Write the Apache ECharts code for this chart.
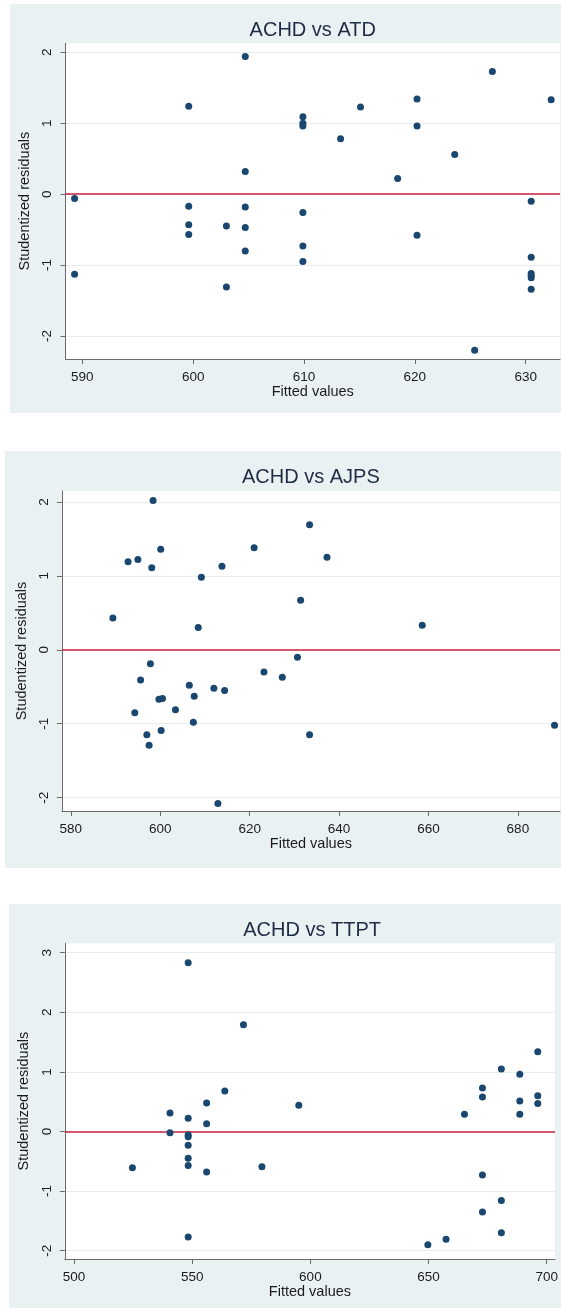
<!DOCTYPE html>
<html>
<head>
<meta charset="utf-8">
<title>Studentized residuals vs fitted values</title>
<script src="https://cdn.jsdelivr.net/npm/echarts@6/dist/echarts.min.js"></script>
<style>
    html, body { margin: 0; padding: 0; background: #fff; }
    #chart { width: 561px; height: 1310px; }
</style>
</head>
<body>
<div id="chart"></div>
<script>
// ACHD vs ATD
const atdFitted = [589.3, 589.3, 599.6, 599.6, 599.6, 599.6, 603.0, 603.0, 604.7, 604.7, 604.7, 604.7, 604.7,
    609.9, 609.9, 609.9, 609.9, 609.9, 609.9, 613.3, 615.1, 618.45, 620.2, 620.2, 620.2, 623.6, 625.4, 627.0,
    630.5, 630.5, 630.5, 630.5, 630.5, 630.5, 632.3]
const atdResid = [-0.06, -1.13, 1.24, -0.17, -0.43, -0.57, -0.45, -1.31, 1.94, 0.32, -0.18, -0.47, -0.80,
    1.09, 1.00, 0.96, -0.26, -0.73, -0.95, 0.78, 1.23, 0.22, 1.34, 0.96, -0.58, 0.56, -2.20, 1.73,
    -0.10, -0.89, -1.12, -1.15, -1.18, -1.34, 1.33]
const atdXTicks = [590, 600, 610, 620, 630]
const atdYTicks = [-2, -1, 0, 1, 2]

// ACHD vs AJPS
const ajpsFitted = [589.4, 592.8, 595.0, 598.1, 598.4, 600.1, 609.2, 608.5, 613.8, 621.0, 633.4, 631.4,
    637.3, 658.6, 630.7, 597.8, 595.6, 594.3, 597.0, 597.5, 599.7, 600.5, 600.2, 603.4, 606.5, 607.6,
    607.4, 612.0, 614.4, 612.9, 623.2, 627.3, 633.4, 688.2]
const ajpsResid = [0.43, 1.19, 1.22, 1.11, 2.02, 1.36, 0.98, 0.30, 1.13, 1.38, 1.69, 0.67,
    1.25, 0.33, -0.10, -0.19, -0.41, -0.85, -1.15, -1.29, -0.67, -0.66, -1.09, -0.81, -0.48, -0.63,
    -0.98, -0.52, -0.55, -2.08, -0.30, -0.37, -1.15, -1.02]
const ajpsXTicks = [580, 600, 620, 640, 660, 680]
const ajpsYTicks = [-2, -1, 0, 1, 2]

// ACHD vs TTPT
const ttptFitted = [524.7, 540.6, 540.6, 548.3, 548.3, 548.3, 548.3, 548.3, 548.3, 548.3, 548.3,
    556.1, 556.1, 556.1, 563.8, 571.7, 579.5, 595.1, 649.7, 657.4, 665.2, 672.8, 672.8, 672.8, 672.8,
    680.8, 680.8, 680.8, 688.6, 688.6, 688.6, 696.2, 696.2, 696.2]
const ttptResid = [-0.61, 0.31, -0.02, 2.83, 0.22, -0.06, -0.09, -0.23, -0.45, -0.57, -1.77,
    0.48, 0.13, -0.68, 0.68, 1.79, -0.59, 0.44, -1.90, -1.81, 0.29, 0.73, 0.58, -0.73, -1.35,
    1.05, -1.16, -1.70, 0.96, 0.51, 0.29, 1.34, 0.60, 0.47]
const ttptXTicks = [500, 550, 600, 650, 700]
const ttptYTicks = [-2, -1, 0, 1, 2, 3]

const panels = [
    { title: 'ACHD vs ATD', x: atdFitted, y: atdResid, xTicks: atdXTicks, yTicks: atdYTicks,
        box: [10, 4, 551, 409], grid: [65.5, 43.3, 494.5, 315.7], titleY: 30,
        xRange: [588.48, 633.1], yRange: [-2.324, 2.127], nameGapY: 26, nameGapX: 23 },
    { title: 'ACHD vs AJPS', x: ajpsFitted, y: ajpsResid, xTicks: ajpsXTicks, yTicks: ajpsYTicks,
        box: [5, 451, 556, 417], grid: [61.9, 491, 498, 320], titleY: 477,
        xRange: [578.0, 689.4], yRange: [-2.18, 2.147], nameGapY: 26, nameGapX: 25 },
    { title: 'ACHD vs TTPT', x: ttptFitted, y: ttptResid, xTicks: ttptXTicks, yTicks: ttptYTicks,
        box: [9, 904, 552, 404], grid: [64.8, 943.3, 494.5, 315.7], titleY: 930,
        xRange: [496.1, 703.5], yRange: [-2.14, 3.158], nameGapY: 27, nameGapX: 24 }
]

const fontFamily = '"Liberation Sans", Arial, sans-serif'
const axisColor = '#6a6a6a'
const textColor = '#1b1b1b'

const chart = echarts.init(document.getElementById('chart'), null, { renderer: 'canvas' })

const option = {
    animation: false,
    textStyle: { fontFamily: fontFamily },
    graphic: [],
    grid: [],
    xAxis: [],
    yAxis: [],
    series: []
}

panels.forEach((p, i) => {
    // grey-blue graph region behind each plot
    option.graphic.push({
        type: 'rect', z: -10, silent: true,
        shape: { x: p.box[0], y: p.box[1], width: p.box[2], height: p.box[3] },
        style: { fill: '#eaf1f3' }
    })
    option.graphic.push({
        type: 'text', z: 10, silent: true,
        x: p.grid[0] + p.grid[2] / 2, y: p.titleY,
        style: { text: p.title, font: '20px ' + fontFamily, fill: '#1e2c45',
            textAlign: 'center', textVerticalAlign: 'middle' }
    })
    option.grid.push({
        left: p.grid[0], top: p.grid[1], width: p.grid[2], height: p.grid[3],
        show: true, backgroundColor: '#ffffff', borderWidth: 0
    })
    option.xAxis.push({
        type: 'value', gridIndex: i, min: p.xRange[0], max: p.xRange[1],
        name: 'Fitted values', nameLocation: 'middle', nameGap: p.nameGapX,
        nameTextStyle: { fontSize: 14.5, color: textColor, fontFamily: fontFamily },
        axisLine: { show: true, onZero: false, lineStyle: { color: axisColor, width: 1 } },
        axisTick: { show: true, length: 5, customValues: p.xTicks, lineStyle: { color: axisColor } },
        axisLabel: { customValues: p.xTicks, margin: 11, fontSize: 13.5, color: textColor },
        splitLine: { show: false }
    })
    option.yAxis.push({
        type: 'value', gridIndex: i, min: p.yRange[0], max: p.yRange[1],
        name: 'Studentized residuals', nameLocation: 'middle', nameGap: p.nameGapY,
        nameTextStyle: { fontSize: 14.5, color: textColor, fontFamily: fontFamily },
        axisLine: { show: true, onZero: false, lineStyle: { color: axisColor, width: 1 } },
        axisTick: { show: true, length: 5, customValues: p.yTicks, lineStyle: { color: axisColor } },
        axisLabel: { customValues: p.yTicks, rotate: 90, margin: 11, fontSize: 13.5, color: textColor },
        splitLine: { show: true, lineStyle: { color: '#e5eef0', width: 1.2 } }
    })
    option.series.push({
        type: 'scatter', xAxisIndex: i, yAxisIndex: i, z: 3,
        data: p.x.map((v, k) => [v, p.y[k]]),
        symbolSize: 7,
        itemStyle: { color: '#1a476f', opacity: 1 },
        markLine: {
            silent: true, z: 1, symbol: 'none', animation: false,
            label: { show: false },
            lineStyle: { color: '#c8203f', width: 1.5, type: 'solid' },
            data: [{ yAxis: 0 }]
        }
    })
})

chart.setOption(option)
</script>
</body>
</html>
